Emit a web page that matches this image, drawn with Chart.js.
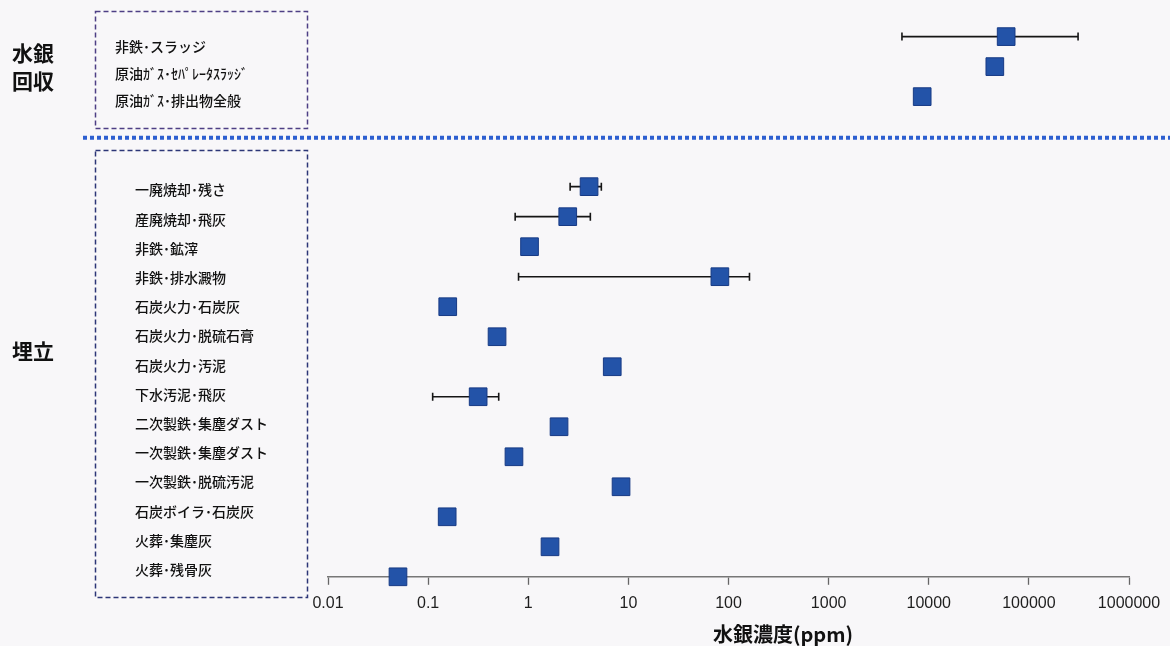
<!DOCTYPE html>
<html>
<head>
<meta charset="utf-8">
<script src="https://cdn.jsdelivr.net/npm/chart.js@4/dist/chart.umd.min.js"></script>
<style>
  html, body { margin: 0; padding: 0; background: #f8f7f9; }
  #wrap { width: 1170px; height: 646px; }
</style>
</head>
<body>
<div id="wrap"><canvas id="chart" width="1170" height="646"></canvas></div>
<script>
// 水銀回収
const recoveryLabels = ['非鉄･スラッジ', '原油ｶﾞｽ･ｾﾊﾟﾚｰﾀｽﾗｯｼﾞ', '原油ｶﾞｽ･排出物全般'];
const recoveryValues = [59300, 45700, 8600];
const recoveryLow = [5400, null, null];
const recoveryHigh = [310000, null, null];

// 埋立
const landfillLabels = [
    '一廃焼却･残さ', '産廃焼却･飛灰', '非鉄･鉱滓', '非鉄･排水澱物',
    '石炭火力･石炭灰', '石炭火力･脱硫石膏', '石炭火力･汚泥', '下水汚泥･飛灰',
    '二次製鉄･集塵ダスト', '一次製鉄･集塵ダスト', '一次製鉄･脱硫汚泥',
    '石炭ボイラ･石炭灰', '火葬･集塵灰', '火葬･残骨灰'
];
const landfillValues = [4.05, 2.48, 1.03, 82, 0.157, 0.488, 6.9, 0.316, 2.03, 0.72, 8.45, 0.155, 1.65, 0.05];
const landfillLow = [2.62, 0.74, null, 0.8, null, null, null, 0.111, null, null, null, null, null, null];
const landfillHigh = [5.37, 4.17, null, 162, null, null, null, 0.507, null, null, null, null, null, null];

const tickValues = [0.01, 0.1, 1, 10, 100, 1000, 10000, 100000, 1000000];
const tickLabels = ['0.01', '0.1', '1', '10', '100', '1000', '10000', '100000', '1000000'];

const groupGap = 2; // empty rows between the two groups
const landfillStart = recoveryValues.length + groupGap;

const recoveryPoints = recoveryValues.map((v, i) => ({x: v, y: i, low: recoveryLow[i], high: recoveryHigh[i]}));
const landfillPoints = landfillValues.map((v, i) => ({x: v, y: landfillStart + i, low: landfillLow[i], high: landfillHigh[i]}));

const jpFont = '"Noto Sans CJK JP", "Noto Sans", sans-serif';

const pointStyle = {
    pointStyle: 'rect',
    pointRadius: 12.5,
    pointHoverRadius: 12.5,
    backgroundColor: '#2353a8',
    borderColor: '#173a85',
    borderWidth: 1,
    showLine: false,
    clip: false
};

const decor = {
    id: 'decor',
    beforeDatasetsDraw(chart) {
        const {ctx, scales: {x, y}} = chart;
        ctx.save();
        ctx.strokeStyle = '#151515';
        ctx.lineWidth = 1.6;
        [...recoveryPoints, ...landfillPoints].forEach(p => {
            if (p.low == null) return;
            const py = y.getPixelForValue(p.y);
            const x1 = x.getPixelForValue(p.low);
            const x2 = x.getPixelForValue(p.high);
            ctx.beginPath();
            ctx.moveTo(x1, py); ctx.lineTo(x2, py);
            ctx.moveTo(x1, py - 4); ctx.lineTo(x1, py + 4);
            ctx.moveTo(x2, py - 4); ctx.lineTo(x2, py + 4);
            ctx.stroke();
        });
        ctx.restore();
    },
    afterDraw(chart) {
        const {ctx, scales: {x, y}} = chart;
        ctx.save();

        // dashed boxes around the category names
        ctx.lineWidth = 1.5;
        ctx.setLineDash([5, 3]);
        ctx.strokeStyle = '#4d3f85';
        ctx.strokeRect(95.5, 11.5, 212, 117);
        ctx.strokeStyle = '#2c3677';
        ctx.strokeRect(95.5, 150.5, 212, 447);

        // blue dotted separator
        const sepY = y.getPixelForValue(recoveryValues.length + 0.37);
        ctx.setLineDash([4, 3]);
        ctx.lineWidth = 4;
        ctx.strokeStyle = '#2d5fd0';
        ctx.beginPath();
        ctx.moveTo(83, sepY);
        ctx.lineTo(1170, sepY);
        ctx.stroke();
        ctx.setLineDash([]);

        // category names
        ctx.fillStyle = '#111';
        ctx.textBaseline = 'middle';
        ctx.textAlign = 'left';
        ctx.font = '500 14px ' + jpFont;
        recoveryLabels.forEach((t, i) => ctx.fillText(t, 115, 47 + 27 * i));
        landfillLabels.forEach((t, i) => ctx.fillText(t, 135, 190 + 29.2 * i));

        // group names
        ctx.font = 'bold 21px ' + jpFont;
        ctx.fillStyle = '#111';
        ctx.fillText('水銀', 12, 53);
        ctx.fillText('回収', 12, 81);
        ctx.fillText('埋立', 12, 351);

        // axis title
        ctx.font = 'bold 20px ' + jpFont;
        ctx.textAlign = 'center';
        ctx.fillText('水銀濃度(ppm)', 783, 634);

        ctx.restore();
    }
};

const ctx = document.getElementById('chart').getContext('2d');
const chart = new Chart(ctx, {
    type: 'scatter',
    data: {
        datasets: [
            {label: '水銀回収', data: recoveryPoints, ...pointStyle},
            {label: '埋立', data: landfillPoints, ...pointStyle}
        ]
    },
    options: {
        responsive: false,
        animation: false,
        layout: {padding: {left: 328, right: 41, top: 0.6, bottom: 24}},
        plugins: {
            legend: {display: false},
            tooltip: {enabled: false}
        },
        scales: {
            x: {
                type: 'logarithmic',
                min: tickValues[0],
                max: tickValues[tickValues.length - 1],
                afterBuildTicks: scale => {
                    scale.ticks = tickValues.map(v => ({value: v}));
                },
                ticks: {
                    autoSkip: false,
                    maxRotation: 0,
                    padding: 9,
                    color: '#1e1e1e',
                    font: {family: '"Liberation Sans", Arial, sans-serif', size: 16},
                    callback: (value) => {
                        const i = tickValues.indexOf(value);
                        return i >= 0 ? tickLabels[i] : '';
                    }
                },
                grid: {
                    drawOnChartArea: false,
                    drawTicks: true,
                    tickLength: 8,
                    tickWidth: 1.3,
                    color: '#666'
                },
                border: {display: true, color: '#777', width: 1.5}
            },
            y: {
                type: 'linear',
                display: false,
                reverse: true,
                min: -0.77,
                max: landfillStart + landfillValues.length - 1
            }
        }
    },
    plugins: [decor]
});
</script>
</body>
</html>
